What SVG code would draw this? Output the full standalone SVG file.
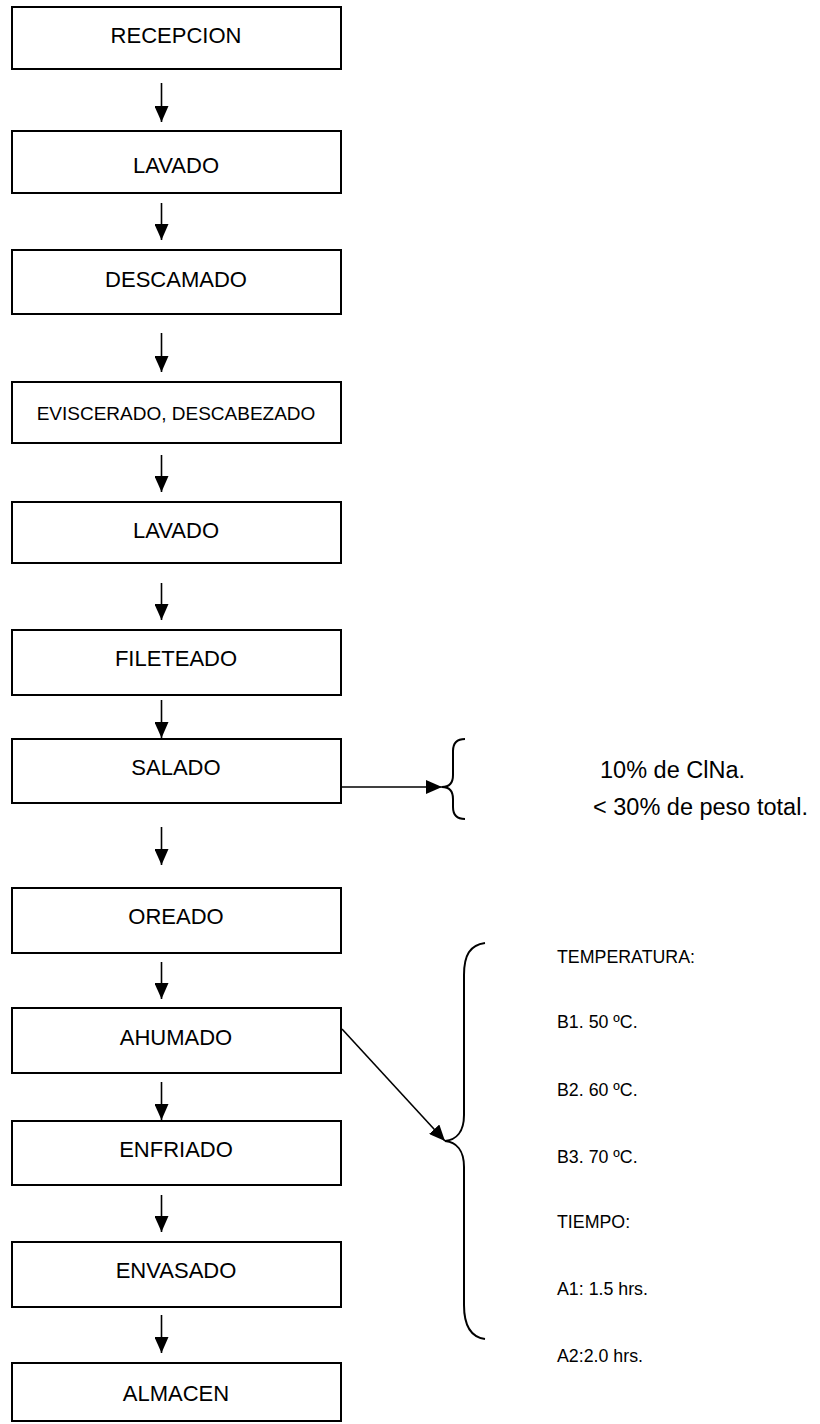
<svg xmlns="http://www.w3.org/2000/svg" width="820" height="1424" viewBox="0 0 820 1424">
<style>
.box{fill:#fff;stroke:#000;stroke-width:2}
.lbl{font-family:"Liberation Sans",Arial,sans-serif;font-size:22px;fill:#000;text-anchor:middle}
.side{font-family:"Liberation Sans",Arial,sans-serif;font-size:17.8px;fill:#000}
.big{font-family:"Liberation Sans",Arial,sans-serif;font-size:23.5px;fill:#000}
.con{stroke:#000;stroke-width:1.6;fill:none}
.brace{stroke:#000;stroke-width:2;fill:none}
</style>
<defs>
<marker id="ah" viewBox="0 0 16 14" refX="16" refY="7" markerWidth="16" markerHeight="14" markerUnits="userSpaceOnUse" orient="auto">
<path d="M0,0 L16,7 L0,14 z" fill="#000"/>
</marker>
</defs>
<rect width="820" height="1424" fill="#fff"/>
<g id="n1"><rect class="box" x="12" y="7" width="329" height="62"/><text class="lbl" x="176" y="43">RECEPCION</text></g>
<g id="n2"><rect class="box" x="12" y="131" width="329" height="62"/><text class="lbl" x="176" y="173">LAVADO</text></g>
<g id="n3"><rect class="box" x="12" y="250" width="329" height="64"/><text class="lbl" x="176" y="287">DESCAMADO</text></g>
<g id="n4"><rect class="box" x="12" y="382" width="329" height="61"/><text class="lbl" x="176" y="420" style="font-size:19px">EVISCERADO, DESCABEZADO</text></g>
<g id="n5"><rect class="box" x="12" y="502" width="329" height="61"/><text class="lbl" x="176" y="538">LAVADO</text></g>
<g id="n6"><rect class="box" x="12" y="630" width="329" height="65"/><text class="lbl" x="176" y="666">FILETEADO</text></g>
<g id="n7"><rect class="box" x="12" y="739" width="329" height="64"/><text class="lbl" x="176" y="775">SALADO</text></g>
<g id="n8"><rect class="box" x="12" y="888" width="329" height="65"/><text class="lbl" x="176" y="924">OREADO</text></g>
<g id="n9"><rect class="box" x="12" y="1008" width="329" height="65"/><text class="lbl" x="176" y="1045">AHUMADO</text></g>
<g id="n10"><rect class="box" x="12" y="1121" width="329" height="64"/><text class="lbl" x="176" y="1157">ENFRIADO</text></g>
<g id="n11"><rect class="box" x="12" y="1242" width="329" height="65"/><text class="lbl" x="176" y="1278">ENVASADO</text></g>
<g id="n12"><rect class="box" x="12" y="1363" width="329" height="58"/><text class="lbl" x="176" y="1401">ALMACEN</text></g>
<g id="connectors">
<line class="con" x1="161.5" y1="83" x2="161.5" y2="122" marker-end="url(#ah)"/>
<line class="con" x1="161.5" y1="203" x2="161.5" y2="240" marker-end="url(#ah)"/>
<line class="con" x1="161.5" y1="333" x2="161.5" y2="372" marker-end="url(#ah)"/>
<line class="con" x1="161.5" y1="455" x2="161.5" y2="492" marker-end="url(#ah)"/>
<line class="con" x1="161.5" y1="583" x2="161.5" y2="620" marker-end="url(#ah)"/>
<line class="con" x1="161.5" y1="700" x2="161.5" y2="738" marker-end="url(#ah)"/>
<line class="con" x1="161.5" y1="827" x2="161.5" y2="865" marker-end="url(#ah)"/>
<line class="con" x1="161.5" y1="962" x2="161.5" y2="999" marker-end="url(#ah)"/>
<line class="con" x1="161.5" y1="1082" x2="161.5" y2="1120" marker-end="url(#ah)"/>
<line class="con" x1="161.5" y1="1195" x2="161.5" y2="1232" marker-end="url(#ah)"/>
<line class="con" x1="161.5" y1="1315" x2="161.5" y2="1353" marker-end="url(#ah)"/>
<line class="con" x1="341" y1="787" x2="442" y2="787" marker-end="url(#ah)"/>
<line class="con" x1="342" y1="1029" x2="445" y2="1141" marker-end="url(#ah)"/>
</g>
<g id="brace-salado">
<path class="brace" d="M465,739 Q453,739 453,751 L453,775 Q453,787 442,787 Q453,787 453,799 L453,807 Q453,819 465,819"/>
<text class="big" x="600" y="778">10% de ClNa.</text>
<text class="big" x="593" y="815">&lt; 30% de peso total.</text>
</g>
<g id="brace-ahumado">
<path class="brace" d="M485,943 C470,945 464,955 464,975 L464,1115 C464,1132 456,1140 445,1141 C456,1142 464,1150 464,1167 L464,1305 C464,1325 470,1337 485,1339"/>
<text class="side" x="557" y="963">TEMPERATURA:</text>
<text class="side" x="557" y="1028">B1. 50 ºC.</text>
<text class="side" x="557" y="1096">B2. 60 ºC.</text>
<text class="side" x="557" y="1163">B3. 70 ºC.</text>
<text class="side" x="557" y="1228">TIEMPO:</text>
<text class="side" x="557" y="1295">A1: 1.5 hrs.</text>
<text class="side" x="557" y="1362">A2:2.0 hrs.</text>
</g>
</svg>
